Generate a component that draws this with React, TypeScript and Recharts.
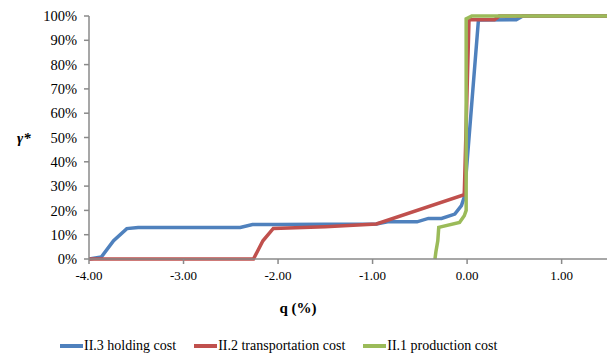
import { LineChart, Line, XAxis, YAxis } from 'recharts';

// q (%) positions and gamma* (%) values
const holdingQ = [-4.0, -3.87, -3.74, -3.6, -3.48, -3.0, -2.6, -2.4, -2.27, -2.0, -1.5, -0.96, -0.84, -0.53, -0.41, -0.27, -0.13, -0.06, -0.03, 0.12, 0.52, 0.59, 1.48];
const holdingY = [0, 0.8, 7.5, 12.5, 13, 13, 13, 13, 14.2, 14.2, 14.3, 14.4, 15.3, 15.3, 16.7, 16.7, 18.5, 22, 25.5, 98.4, 98.5, 100, 100];

const transportQ = [-4.0, -2.26, -2.16, -2.05, -1.5, -0.96, -0.03, 0.02, 0.29, 0.34, 1.48];
const transportY = [0, 0, 7.5, 12.6, 13.3, 14.4, 26.5, 98.5, 98.5, 100, 100];

const productionQ = [-0.34, -0.33, -0.31, -0.3, -0.08, -0.03, -0.01, -0.01, 0.05, 1.48];
const productionY = [0, 3, 7.5, 13, 15, 17.8, 20, 98.8, 100, 100];

const xTicks = [-4, -3, -2, -1, 0, 1];
const yTicks = [0, 10, 20, 30, 40, 50, 60, 70, 80, 90, 100];

const toRows = (qs: number[], ys: number[]) => qs.map((q, i) => ({ q, y: ys[i] }));

const series = [
  { name: 'II.3 holding cost', color: '#4F81BD', data: toRows(holdingQ, holdingY) },
  { name: 'II.2 transportation cost', color: '#C0504D', data: toRows(transportQ, transportY) },
  { name: 'II.1 production cost', color: '#9BBB59', data: toRows(productionQ, productionY) },
];

const font = '"Liberation Serif", "Times New Roman", serif';
const axisColor = '#8a8a8a';

export default function App() {
  return (
    <div style={{ position: 'absolute', left: 0, top: 0, width: 607, height: 356, background: '#fff', fontFamily: font }}>
      <style>{`.recharts-wrapper svg text { font-family: ${font}; }`}</style>
      <LineChart width={607} height={356} margin={{ top: 16, right: 0, bottom: 67, left: 0 }} style={{ fontFamily: font }}>
        <XAxis
          type="number"
          dataKey="q"
          domain={[-4, 1.48]}
          ticks={xTicks}
          allowDataOverflow
          tickFormatter={(v: number) => v.toFixed(2)}
          stroke={axisColor}
          strokeWidth={1.5}
          tickSize={5}
          tickMargin={7}
          height={30}
          tick={{ fill: '#000', fontSize: 13 }}
          label={{
            content: (props: any) => {
              const vb = props.viewBox;
              return (
                <text x={vb.x + 209} y={vb.y + 54} textAnchor="middle" fontSize={15} fontWeight="bold" fill="#000">
                  q (%)
                </text>
              );
            },
          }}
        />
        <YAxis
          type="number"
          domain={[0, 100]}
          ticks={yTicks}
          width={89}
          tickFormatter={(v: number) => `${v}%`}
          stroke={axisColor}
          strokeWidth={1.5}
          tickSize={5}
          tickMargin={7}
          tick={{ fill: '#000', fontSize: 14.5 }}
          label={{
            content: (props: any) => {
              const vb = props.viewBox;
              return (
                <text x={17} y={vb.y + vb.height / 2 + 5} fontSize={15} fontWeight="bold" fontStyle="italic" fill="#000">
                  γ*
                </text>
              );
            },
          }}
        />
        {series.map((s) => (
          <Line
            key={s.name}
            data={s.data}
            dataKey="y"
            name={s.name}
            type="linear"
            stroke={s.color}
            strokeWidth={3.5}
            dot={false}
            activeDot={false}
            isAnimationActive={false}
          />
        ))}
      </LineChart>
      <div style={{ position: 'absolute', left: 60, top: 338, display: 'flex', alignItems: 'center', fontSize: 14, whiteSpace: 'nowrap' }}>
        {series.map((s) => (
          <span key={s.name} style={{ display: 'flex', alignItems: 'center', marginRight: 18 }}>
            <span style={{ display: 'inline-block', width: 23, height: 4, background: s.color, marginRight: 1 }} />
            {s.name}
          </span>
        ))}
      </div>
    </div>
  );
}
